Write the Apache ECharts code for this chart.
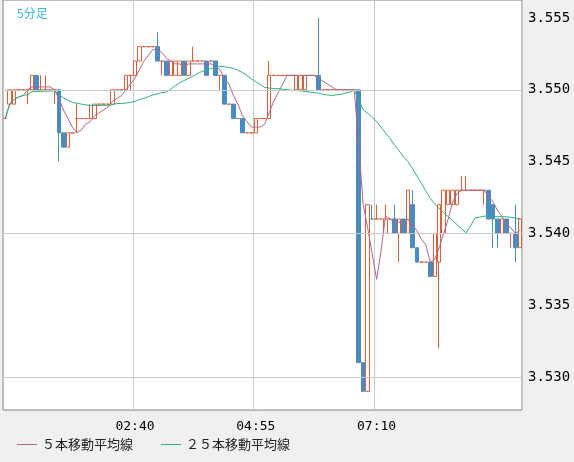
<!DOCTYPE html>
<html><head><meta charset="utf-8">
<script src="https://cdn.jsdelivr.net/npm/echarts@6/dist/echarts.min.js"></script>
<style>html,body{margin:0;padding:0;background:#f0f0f0;}#c{width:574px;height:462px;}</style>
</head><body><div id="c"></div>
<script>
// OHLC per 5-minute bar: [open, close, low, high]
const opens  = [3.548,3.549,3.549,3.550,3.550,3.550,3.550,3.551,3.550,3.550,3.550,3.550,3.550,3.547,3.546,3.547,3.548,3.548,3.548,3.548,3.548,3.549,3.549,3.549,3.549,3.550,3.550,3.550,3.551,3.551,3.552,3.553,3.553,3.553,3.553,3.552,3.552,3.551,3.551,3.551,3.552,3.551,3.552,3.552,3.552,3.552,3.552,3.552,3.551,3.551,3.549,3.549,3.548,3.548,3.547,3.547,3.547,3.548,3.548,3.548,3.551,3.551,3.551,3.551,3.551,3.550,3.550,3.550,3.551,3.551,3.551,3.550,3.550,3.550,3.550,3.550,3.550,3.550,3.550,3.550,3.531,3.529,3.541,3.541,3.541,3.540,3.541,3.541,3.540,3.541,3.540,3.542,3.539,3.538,3.538,3.538,3.537,3.538,3.540,3.542,3.542,3.542,3.543,3.543,3.543,3.543,3.543,3.543,3.543,3.542,3.541,3.540,3.541,3.540,3.540,3.539];
const closes = [3.548,3.550,3.550,3.550,3.550,3.550,3.551,3.550,3.550,3.550,3.550,3.550,3.547,3.546,3.547,3.547,3.548,3.548,3.548,3.548,3.549,3.549,3.549,3.549,3.550,3.550,3.550,3.551,3.551,3.552,3.553,3.553,3.553,3.553,3.552,3.552,3.551,3.552,3.552,3.552,3.551,3.552,3.552,3.552,3.552,3.551,3.552,3.551,3.551,3.549,3.549,3.548,3.548,3.547,3.547,3.547,3.548,3.548,3.548,3.551,3.551,3.551,3.551,3.551,3.551,3.551,3.551,3.551,3.551,3.551,3.550,3.550,3.550,3.550,3.550,3.550,3.550,3.550,3.550,3.531,3.529,3.542,3.541,3.541,3.541,3.541,3.541,3.540,3.541,3.540,3.543,3.539,3.538,3.538,3.538,3.537,3.540,3.542,3.543,3.543,3.543,3.543,3.543,3.543,3.543,3.543,3.543,3.543,3.541,3.541,3.540,3.541,3.540,3.540,3.539,3.541];
const lows   = [3.548,3.549,3.549,3.550,3.550,3.549,3.550,3.550,3.550,3.550,3.550,3.549,3.545,3.546,3.546,3.547,3.547,3.548,3.548,3.548,3.548,3.549,3.549,3.549,3.549,3.550,3.550,3.550,3.550,3.551,3.552,3.553,3.553,3.553,3.552,3.551,3.551,3.551,3.551,3.551,3.551,3.551,3.552,3.552,3.552,3.551,3.552,3.551,3.550,3.549,3.549,3.548,3.548,3.547,3.547,3.547,3.547,3.548,3.548,3.548,3.551,3.551,3.551,3.551,3.551,3.550,3.550,3.550,3.551,3.551,3.550,3.550,3.550,3.550,3.550,3.550,3.550,3.550,3.550,3.531,3.529,3.529,3.541,3.541,3.541,3.540,3.541,3.540,3.538,3.540,3.540,3.539,3.538,3.538,3.538,3.537,3.537,3.532,3.540,3.542,3.542,3.542,3.543,3.543,3.543,3.543,3.543,3.542,3.541,3.539,3.539,3.540,3.540,3.539,3.538,3.539];
const highs  = [3.548,3.550,3.550,3.550,3.550,3.550,3.551,3.551,3.551,3.551,3.550,3.550,3.550,3.547,3.547,3.547,3.549,3.548,3.548,3.549,3.549,3.549,3.549,3.549,3.550,3.550,3.550,3.551,3.551,3.552,3.553,3.553,3.553,3.553,3.554,3.552,3.552,3.552,3.552,3.552,3.552,3.552,3.553,3.552,3.552,3.552,3.552,3.552,3.551,3.551,3.549,3.549,3.548,3.548,3.547,3.547,3.548,3.548,3.548,3.552,3.551,3.551,3.551,3.551,3.551,3.551,3.551,3.551,3.551,3.551,3.555,3.550,3.550,3.550,3.550,3.550,3.550,3.550,3.550,3.550,3.531,3.542,3.542,3.542,3.541,3.542,3.541,3.542,3.541,3.541,3.543,3.543,3.539,3.538,3.538,3.538,3.540,3.542,3.543,3.543,3.543,3.543,3.544,3.544,3.543,3.543,3.543,3.543,3.543,3.542,3.541,3.541,3.541,3.540,3.542,3.541];
const yTicks = [3.530, 3.535, 3.540, 3.545, 3.550, 3.555];
const labelTimes = ['02:40', '04:55', '07:10'];

const startMin = 15; // 00:15
const categories = opens.map((_, i) => {
  const m = startMin + i * 5;
  return String(Math.floor(m / 60)).padStart(2, '0') + ':' + String(m % 60).padStart(2, '0');
});
const ohlc = opens.map((o, i) => [o, closes[i], lows[i], highs[i]]);
function ma(n) {
  return closes.map((_, i) => {
    const s = Math.max(0, i - n + 1);
    let t = 0; for (let k = s; k <= i; k++) t += closes[k];
    return +(t / (i - s + 1)).toFixed(5);
  });
}
const showIdx = idx => labelTimes.indexOf(categories[idx]) >= 0;

const chart = echarts.init(document.getElementById('c'));
chart.setOption({
  backgroundColor: '#f0f0f0',
  animation: false,
  title: { text: '5分足', left: 12, top: 2, textStyle: { color: '#3cb4e6', fontSize: 12, fontWeight: 'normal', fontFamily: 'Noto Sans CJK JP' } },
  grid: { left: 3, right: 52, top: 0, bottom: 52, show: true, backgroundColor: '#fff', borderColor: '#808080', borderWidth: 1 },
  legend: {
    left: 12, bottom: 6, itemWidth: 20, itemHeight: 1, itemGap: 28, icon: 'rect',
    textStyle: { fontFamily: 'Noto Sans CJK JP', fontSize: 13, color: '#222' },
    data: ['５本移動平均線', '２５本移動平均線']
  },
  xAxis: {
    type: 'category', data: categories, boundaryGap: true,
    axisLine: { show: false }, axisTick: { show: false },
    axisLabel: { interval: (i) => showIdx(i), color: '#000', fontFamily: 'DejaVu Sans Mono', fontSize: 13, margin: 10 },
    splitLine: { show: true, interval: (i) => showIdx(i), lineStyle: { color: '#c8c8c8' } }
  },
  yAxis: {
    type: 'value', position: 'right', min: 3.5277, max: 3.55625, scale: true,
    axisLine: { show: false }, axisTick: { show: false, customValues: yTicks },
    axisLabel: { show: true, customValues: yTicks, formatter: v => v.toFixed(3), color: '#000', fontFamily: 'DejaVu Sans Mono', fontSize: 14, margin: 6, hideOverlap: false },
    splitLine: { show: false }
  },
  series: [
    {
      type: 'candlestick', data: ohlc, barWidth: 4,
      itemStyle: { color: '#ffffff', color0: '#4a8bc2', borderColor: '#d9603b', borderColor0: '#4a8bc2', borderWidth: 1 },
      markLine: {
        silent: true, symbol: 'none', animation: false,
        lineStyle: { color: '#c8c8c8', type: 'solid', width: 1 },
        label: { show: false },
        data: yTicks.map(v => ({ yAxis: v }))
      }
    },
    { name: '５本移動平均線', type: 'line', data: ma(5), symbol: 'none', lineStyle: { color: '#b5648a', width: 1 }, itemStyle: { color: '#b5648a' }, z: 3 },
    { name: '２５本移動平均線', type: 'line', data: ma(25), symbol: 'none', lineStyle: { color: '#2db37a', width: 1 }, itemStyle: { color: '#2db37a' }, z: 3 }
  ]
});
</script></body></html>
